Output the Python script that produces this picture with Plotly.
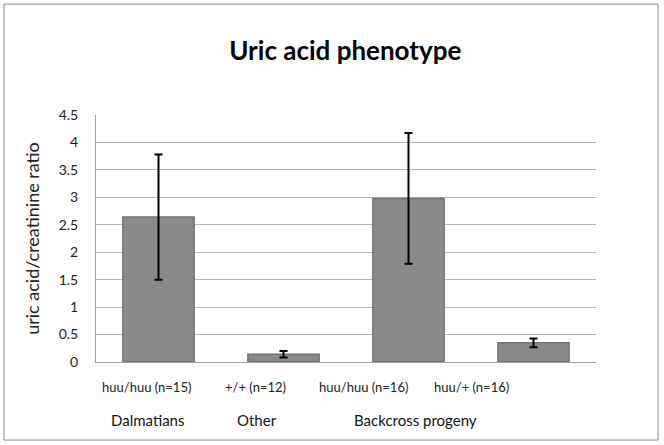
import plotly.graph_objects as go

# values
genotypes = ["huu/huu (n=15)", "+/+ (n=12)", "huu/huu (n=16)", "huu/+ (n=16)"]
groups = ["Dalmatians", "Other", "Backcross progeny"]
ratio = [2.64, 0.14, 2.98, 0.35]
ratio_err = [1.14, 0.06, 1.19, 0.08]
y_ticks = [0, 0.5, 1, 1.5, 2, 2.5, 3, 3.5, 4, 4.5]

# label centres (paper x) as they sit in the picture
genotype_pos = [0.101, 0.319, 0.535, 0.75]
group_pos = [0.103, 0.321, 0.638]

font = "Lato"

fig = go.Figure()
fig.add_trace(go.Bar(
    x=list(range(len(ratio))), y=ratio,
    marker=dict(color="#8a8a8a", line=dict(color="#727272", width=1.5)),
    error_y=dict(type="data", array=ratio_err, color="black", thickness=2, width=4),
    width=0.57,
))

for txt, xp in zip(genotypes, genotype_pos):
    fig.add_annotation(text=txt, x=xp, y=-0.1, xref="paper", yref="paper",
                       xanchor="center", yanchor="middle", showarrow=False,
                       font=dict(family=font, size=13, color="#222"))
for txt, xp in zip(groups, group_pos):
    fig.add_annotation(text=txt, x=xp, y=-0.235, xref="paper", yref="paper",
                       xanchor="center", yanchor="middle", showarrow=False,
                       font=dict(family=font, size=15, color="#111"))

# outer chart border
fig.add_shape(type="rect", xref="paper", yref="paper",
              x0=-0.184, x1=1.124, y0=-0.316, y1=1.449,
              line=dict(color="#8a8a8a", width=1))

fig.update_layout(
    width=664, height=445,
    margin=dict(l=96, r=68, t=115, b=83),
    paper_bgcolor="white", plot_bgcolor="white",
    showlegend=False,
    title=dict(text="<b>Uric acid phenotype</b>", x=0.52, xanchor="center",
               y=0.885, yanchor="middle",
               font=dict(family=font, size=26, color="black")),
    font=dict(family=font, color="#222"),
)
fig.update_xaxes(range=[-0.5, 3.5], showticklabels=False, showgrid=False,
                 showline=True, linecolor="#a0a0a0", linewidth=1, zeroline=False)
fig.update_yaxes(range=[0, 4.5], tickvals=y_ticks, ticktext=[f"{v:g}" for v in y_ticks],
                 showgrid=True, gridcolor="#b4b4b4", gridwidth=1,
                 showline=True, linecolor="#a0a0a0", linewidth=1, zeroline=False,
                 ticklabelstandoff=14, tickfont=dict(size=14),
                 title=dict(text="uric acid/creatinine ratio", standoff=14,
                            font=dict(family=font, size=18)))

fig.write_html("out.html", config={"displayModeBar": False},
               post_script="document.body.style.margin='0';")
